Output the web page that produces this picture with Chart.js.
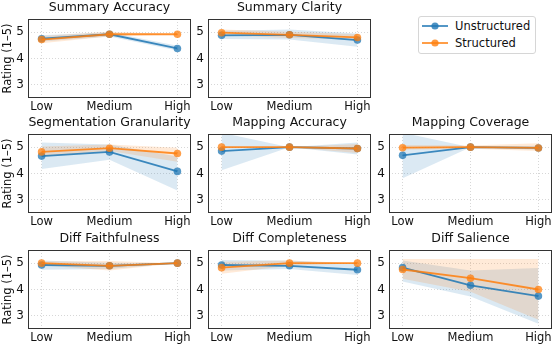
<!DOCTYPE html>
<html>
<head>
<meta charset="utf-8">
<script src="https://cdn.jsdelivr.net/npm/chart.js@4.4.1/dist/chart.umd.min.js"></script>
<style>
  html, body { margin: 0; padding: 0; background: #fff; }
  #wrap { position: relative; width: 555px; height: 347px; overflow: hidden; background: #fff; font-family: "DejaVu Sans", sans-serif; }
  canvas { position: absolute; }
  #legend { position: absolute; left: 418px; top: 16px; width: 116px; height: 36px; border: 1px solid #d6d6d6; border-radius: 3px; background: rgba(255,255,255,0.8); }
  .li { position: absolute; left: 2px; height: 16px; display: flex; align-items: center; font-size: 11.5px; color: #111; }
  .li svg { margin-right: 7px; }
</style>
</head>
<body>
<div id="wrap">
  <div id="legend">
    <div class="li" style="top:1px"><svg width="27" height="10"><line x1="1" y1="5" x2="27" y2="5" stroke="rgba(31,119,180,0.85)" stroke-width="1.8"/><circle cx="14" cy="5" r="3.6" fill="rgba(31,119,180,0.8)"/></svg><span id="lg0"></span></div>
    <div class="li" style="top:18px"><svg width="27" height="10"><line x1="1" y1="5" x2="27" y2="5" stroke="rgba(255,127,14,0.85)" stroke-width="1.8"/><circle cx="14" cy="5" r="3.6" fill="rgba(255,127,14,0.8)"/></svg><span id="lg1"></span></div>
  </div>
</div>
<script>
// ---- data ----
const categories = ['Low', 'Medium', 'High'];
const seriesNames = ['Unstructured', 'Structured'];
const yTicks = [3, 4, 5];
const yLabel = 'Rating (1–5)';
const panelTitles = ['Summary Accuracy', 'Summary Clarity', 'Segmentation Granularity', 'Mapping Accuracy',
  'Mapping Coverage', 'Diff Faithfulness', 'Diff Completeness', 'Diff Salience'];

const unstructuredMean = [[4.75, 4.92, 4.38], [4.88, 4.90, 4.70], [4.66, 4.82, 4.08], [4.85, 5.00, 4.95],
  [4.69, 5.00, 4.97], [4.93, 4.90, 5.00], [4.93, 4.90, 4.75], [4.83, 4.16, 3.75]];
const unstructuredLower = [[4.65, 4.84, 4.30], [4.74, 4.72, 4.45], [4.17, 4.52, 3.35], [4.12, 5.00, 4.72],
  [3.82, 5.00, 4.90], [4.75, 4.78, 5.00], [4.72, 4.78, 4.55], [4.30, 3.73, 2.70]];
const unstructuredUpper = [[4.88, 5.00, 4.48], [5.05, 5.10, 4.95], [5.18, 5.10, 4.65], [5.55, 5.00, 5.18],
  [5.55, 5.00, 5.05], [5.10, 5.02, 5.00], [5.12, 5.10, 4.97], [5.10, 4.72, 4.82]];

const structuredMean = [[4.72, 4.92, 4.92], [4.98, 4.90, 4.80], [4.82, 4.96, 4.76], [5.00, 5.00, 4.95],
  [4.98, 5.00, 4.97], [5.00, 4.90, 5.00], [4.83, 5.00, 5.00], [4.76, 4.43, 4.00]];
const structuredLower = [[4.58, 4.84, 4.92], [4.88, 4.78, 4.72], [4.65, 4.85, 4.45], [5.00, 5.00, 4.78],
  [4.90, 4.94, 4.85], [4.92, 4.72, 5.00], [4.60, 4.90, 5.00], [4.41, 3.91, 2.85]];
const structuredUpper = [[4.85, 5.02, 4.92], [5.10, 5.02, 4.92], [5.03, 5.10, 4.98], [5.00, 5.00, 5.12],
  [5.08, 5.06, 5.15], [5.06, 5.08, 5.00], [5.05, 5.10, 5.00], [5.16, 5.16, 5.16]];

// ---- layout (pixels) ----
const colX = [[28, 191], [208, 371], [389, 552]];
const rowY = [[19, 98], [134, 213], [250, 329]];
const panelCells = [[0, 0], [0, 1], [1, 0], [1, 1], [1, 2], [2, 0], [2, 1], [2, 2]];

const BLUE = 'rgba(31,119,180,0.85)', BLUE_PT = 'rgba(31,119,180,0.75)', BLUE_BAND = 'rgba(31,119,180,0.16)';
const ORANGE = 'rgba(255,127,14,0.85)', ORANGE_PT = 'rgba(255,127,14,0.75)', ORANGE_BAND = 'rgba(255,127,14,0.16)';
const FONT = "'DejaVu Sans', sans-serif";

document.getElementById('lg0').textContent = seriesNames[0];
document.getElementById('lg1').textContent = seriesNames[1];

const boxPlugin = {
  id: 'boxPlugin',
  afterDraw(chart) {
    const a = chart.chartArea, ctx = chart.ctx;
    ctx.save();
    ctx.setLineDash([]);
    ctx.strokeStyle = '#333';
    ctx.lineWidth = 1;
    ctx.strokeRect(Math.round(a.left) + 0.5, Math.round(a.top) + 0.5, Math.round(a.right - a.left) - 1, Math.round(a.bottom - a.top) - 1);
    ctx.restore();
  }
};

function pts(arr) { return arr.map((v, i) => ({ x: i, y: v })); }

const wrap = document.getElementById('wrap');
panelTitles.forEach((title, p) => {
  const [r, c] = panelCells[p];
  const yw = c === 0 ? 28 : 20;
  const left = colX[c][0] - yw, right = colX[c][1] + 4;
  const top = rowY[r][0] - 20, bottom = rowY[r][1] + 18;
  const cv = document.createElement('canvas');
  cv.style.left = left + 'px'; cv.style.top = top + 'px';
  cv.style.width = (right - left) + 'px'; cv.style.height = (bottom - top) + 'px';
  cv.width = right - left; cv.height = bottom - top;
  wrap.appendChild(cv);

  const band = (lo, hi, col, ord) => [
    { data: pts(hi), borderWidth: 0, pointRadius: 0, fill: '+1', backgroundColor: col, order: ord },
    { data: pts(lo), borderWidth: 0, pointRadius: 0, fill: false, backgroundColor: col, order: ord }
  ];
  const line = (m, col, pc, ord, name) => ({
    label: name, data: pts(m), borderColor: col, borderWidth: 1.8, pointRadius: 3.8,
    pointBackgroundColor: pc, pointBorderColor: pc, pointBorderWidth: 0, fill: false, order: ord, tension: 0
  });

  new Chart(cv, {
    type: 'line',
    data: {
      datasets: [
        line(structuredMean[p], ORANGE, ORANGE_PT, 0, seriesNames[1]),
        line(unstructuredMean[p], BLUE, BLUE_PT, 1, seriesNames[0]),
        ...band(structuredLower[p], structuredUpper[p], ORANGE_BAND, 2),
        ...band(unstructuredLower[p], unstructuredUpper[p], BLUE_BAND, 3)
      ]
    },
    options: {
      responsive: false, animation: false, devicePixelRatio: 1,
      layout: { padding: { left: 0, right: 4, top: 0, bottom: 0 } },
      plugins: {
        legend: { display: false }, tooltip: { enabled: false },
        title: { display: true, text: title, fullSize: false, color: '#111',
          font: { family: FONT, size: 12.5, weight: 'normal' }, padding: { top: 1, bottom: 4 } }
      },
      scales: {
        x: {
          type: 'linear', min: -0.2, max: 2.2,
          afterBuildTicks: s => { s.ticks = categories.map((_, i) => ({ value: i })); },
          afterFit: s => { s.height = 18; },
          ticks: { callback: v => categories[v], color: '#111', font: { family: FONT, size: 11.5 }, padding: 2, maxRotation: 0, autoSkip: false },
          grid: { color: 'rgba(0,0,0,0.2)', lineWidth: 0.8, drawTicks: false },
          border: { display: false, dash: [1, 2] }
        },
        y: {
          type: 'linear', min: 2.5, max: 5.5,
          afterBuildTicks: s => { s.ticks = yTicks.map(v => ({ value: v })); },
          afterFit: s => { s.width = yw; },
          ticks: { color: '#111', font: { family: FONT, size: 12 }, padding: 4 },
          grid: { color: 'rgba(0,0,0,0.2)', lineWidth: 0.8, drawTicks: false },
          border: { display: false, dash: [1, 2] },
          title: { display: c === 0, text: yLabel, color: '#111', font: { family: FONT, size: 11.5 }, padding: { top: 1, bottom: 0 } }
        }
      }
    },
    plugins: [boxPlugin]
  });
});
</script>
</body>
</html>
